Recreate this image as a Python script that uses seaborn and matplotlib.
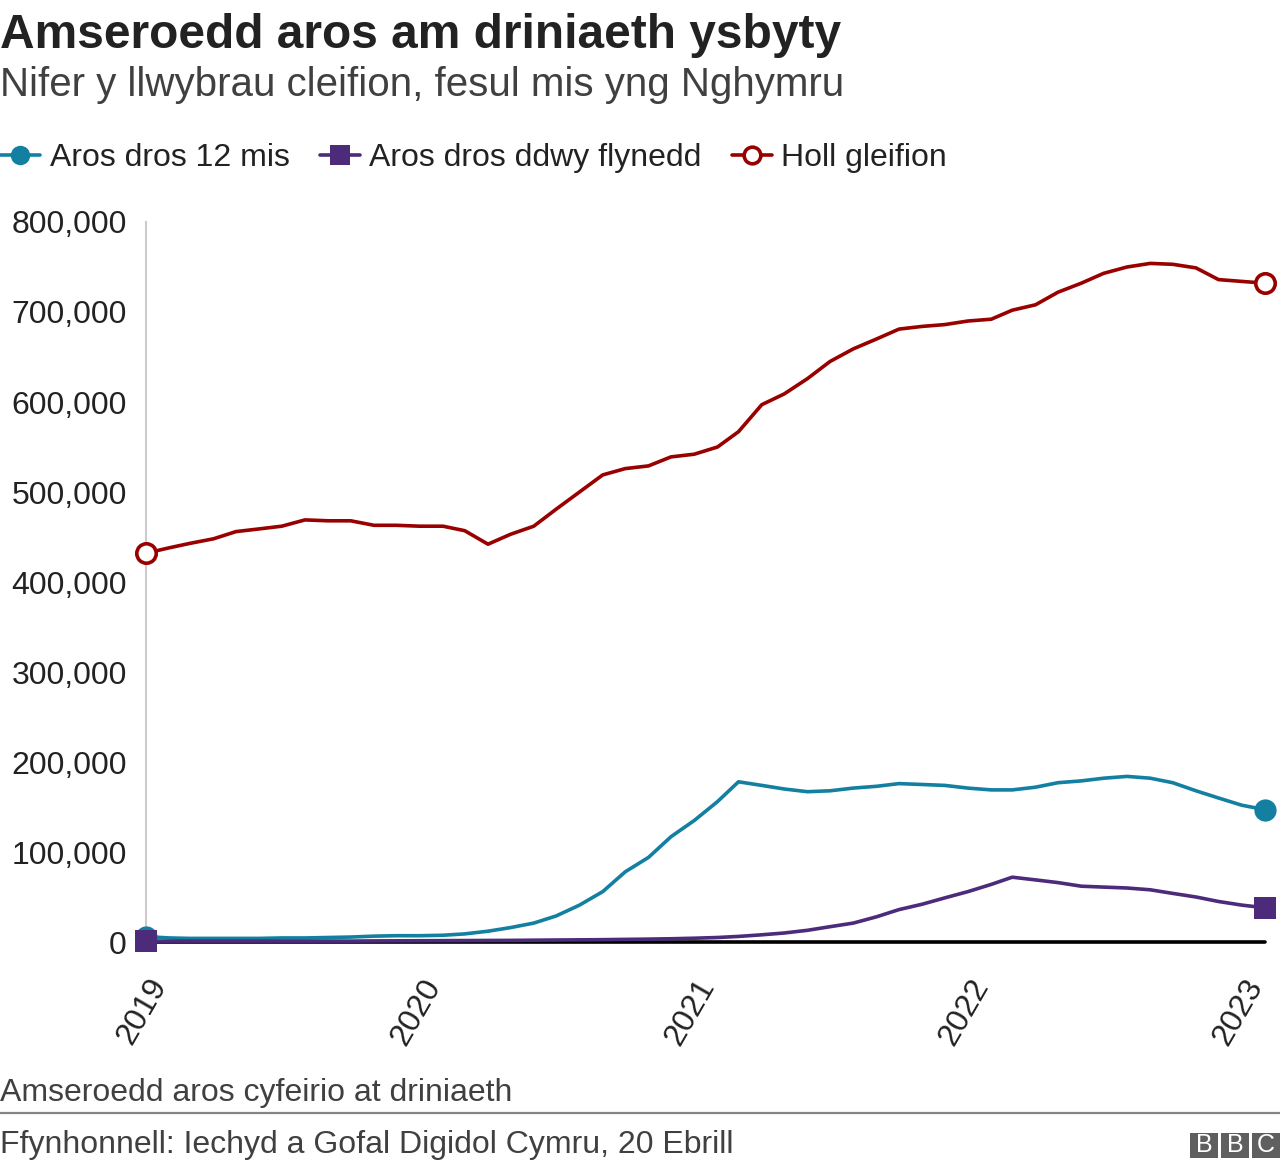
import numpy as np
import pandas as pd
import matplotlib
matplotlib.use("Agg")
import matplotlib.pyplot as plt
import matplotlib.transforms as mtransforms
from matplotlib.lines import Line2D
from matplotlib.patches import Rectangle
import seaborn as sns

# ---------------- data ----------------
months = pd.date_range("2019-01-01", periods=50, freq="MS")

over_12_months = [6000, 4500, 4000, 4000, 4000, 4000, 4500, 4500, 5000, 5500,
                  6500, 7000, 7000, 7500, 9000, 12000, 16000, 21000, 29000, 41000,
                  56000, 78000, 94000, 117000, 135000, 156000, 178000, 174000, 170000, 167000,
                  168000, 171000, 173000, 176000, 175000, 174000, 171000, 169000, 169000, 172000,
                  177000, 179000, 182000, 184000, 182000, 177000, 168000, 160000, 152000, 147000]

over_2_years = [1000, 1000, 1000, 1000, 1000, 1000, 1000, 1000, 1000, 1000,
                1200, 1300, 1400, 1500, 1600, 1700, 1800, 2000, 2200, 2400,
                2600, 2900, 3200, 3600, 4200, 5000, 6200, 8000, 10000, 13000,
                17000, 21000, 28000, 36000, 42000, 49000, 56000, 64000, 72000, 69000,
                66000, 62000, 61000, 60000, 58000, 54000, 50000, 45000, 41000, 38000]

all_patients = [432000, 438000, 443000, 448000, 456000, 459000, 462000, 469000, 468000, 468000,
                463000, 463000, 462000, 462000, 457000, 442000, 453000, 462000, 481000, 500000,
                519000, 526000, 529000, 539000, 542000, 550000, 567000, 597000, 609000, 626000,
                645000, 659000, 670000, 681000, 684000, 686000, 690000, 692000, 702000, 708000,
                722000, 732000, 743000, 750000, 754000, 753000, 749000, 736000, 734000, 732000]

series_names = ["Aros dros 12 mis", "Aros dros ddwy flynedd", "Holl gleifion"]
year_ticks = ["2019", "2020", "2021", "2022", "2023"]
y_ticks = [0, 100000, 200000, 300000, 400000, 500000, 600000, 700000, 800000]

title = "Amseroedd aros am driniaeth ysbyty"
subtitle = "Nifer y llwybrau cleifion, fesul mis yng Nghymru"
note = "Amseroedd aros cyfeirio at driniaeth"
source = "Ffynhonnell: Iechyd a Gofal Digidol Cymru, 20 Ebrill"

# ---------------- style ----------------
sns.set_theme(style="white")
plt.rcParams["font.family"] = ["Liberation Sans", "DejaVu Sans"]

TEAL = "#1380A1"
PURPLE = "#4B2B7A"
RED = "#990000"
TXT = "#222222"
GREY_TXT = "#404040"

W, H = 1280, 1169
fig = plt.figure(figsize=(W / 100, H / 100), dpi=100)

left, right = 146, 1265
top, bottom = 222, 942
ax = fig.add_axes([left / W, 1 - bottom / H, (right - left) / W, (bottom - top) / H])

df = pd.DataFrame({"month": months,
                   series_names[0]: over_12_months,
                   series_names[1]: over_2_years,
                   series_names[2]: all_patients})

ax.axhline(0, color="black", lw=2.6, zorder=1, clip_on=False)

n = len(months)
sns.lineplot(data=df, x="month", y=series_names[0], ax=ax, color=TEAL, lw=2.6,
             marker="o", markevery=[0, n - 1], markersize=16, markeredgewidth=0,
             markerfacecolor=TEAL, clip_on=False, zorder=3)
sns.lineplot(data=df, x="month", y=series_names[1], ax=ax, color=PURPLE, lw=2.6,
             marker="s", markevery=[0, n - 1], markersize=16.5, markeredgewidth=0,
             markerfacecolor=PURPLE, clip_on=False, zorder=4)
sns.lineplot(data=df, x="month", y=series_names[2], ax=ax, color=RED, lw=2.6,
             marker="o", markevery=[0, n - 1], markersize=14, markeredgewidth=2.6,
             markerfacecolor="white", markeredgecolor=RED, clip_on=False, zorder=5)

ax.set_xlim(months[0], months[-1])
ax.set_ylim(0, 800000)
ax.set_xlabel("")
ax.set_ylabel("")

ax.set_yticks(y_ticks)
ax.set_yticklabels([f"{v:,}" for v in y_ticks])
ax.tick_params(axis="y", length=0, pad=13.7, labelsize=23, labelcolor=TXT)

xt = pd.to_datetime([f"{y}-01-01" for y in year_ticks])
ax.set_xticks(xt)
ax.set_xticklabels(year_ticks, rotation=60, ha="right", va="center",
                   rotation_mode="anchor")
ax.tick_params(axis="x", length=0, pad=28, labelsize=23, labelcolor=TXT)
offset = mtransforms.ScaledTranslation(14 / 100, 0, fig.dpi_scale_trans)
for lab in ax.get_xticklabels():
    lab.set_transform(lab.get_transform() + offset)

for s in ["top", "right", "bottom"]:
    ax.spines[s].set_visible(False)
ax.spines["left"].set_color("#cccccc")
ax.spines["left"].set_linewidth(1.5)
ax.spines["left"].set_zorder(0)
ax.grid(False)

# ---------------- texts ----------------
fig.text(0, 1 - 35 / H, title, fontsize=34.5, fontweight="bold", color=TXT,
         ha="left", va="center")
fig.text(0, 1 - 85 / H, subtitle, fontsize=29, color=GREY_TXT, ha="left", va="center")

handles = [
    Line2D([0], [0], color=TEAL, lw=2.6, marker="o", markersize=14, markeredgewidth=0),
    Line2D([0], [0], color=PURPLE, lw=2.6, marker="s", markersize=14, markeredgewidth=0),
    Line2D([0], [0], color=RED, lw=2.6, marker="o", markersize=12, markeredgewidth=2.6,
           markerfacecolor="white", markeredgecolor=RED),
]
fig.legend(handles, series_names, loc="center left", bbox_to_anchor=(0, 1 - 158 / H),
           ncol=3, frameon=False, fontsize=23, handlelength=1.25, handletextpad=0.3,
           columnspacing=0.95, borderpad=0, borderaxespad=0, labelcolor=TXT)

fig.text(0, 1 - 1093 / H, note, fontsize=23, color=GREY_TXT, ha="left", va="center")
fig.add_artist(Line2D([0, 1], [1 - 1113 / H, 1 - 1113 / H], color="#858585", lw=1.6,
                      transform=fig.transFigure))
fig.text(0, 1 - 1145 / H, source, fontsize=23, color=GREY_TXT, ha="left", va="center")

# BBC logo
for i, letter in enumerate("BBC"):
    x0 = 1190 + i * 31
    fig.add_artist(Rectangle((x0 / W, 1 - 1158 / H), 28 / W, 25 / H,
                             transform=fig.transFigure, facecolor="#5f5f5f",
                             edgecolor="none"))
    fig.text((x0 + 14) / W, 1 - 1145.5 / H, letter, fontsize=18,
             color="white", ha="center", va="center")

fig.savefig("out.png", dpi=100)
